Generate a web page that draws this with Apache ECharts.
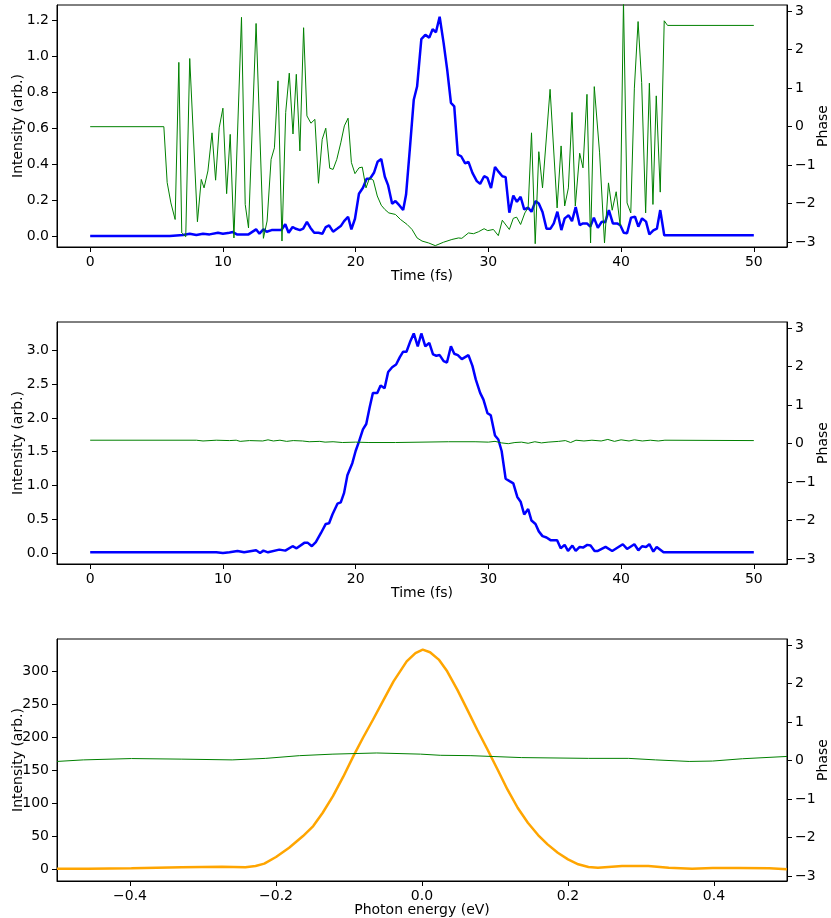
<!DOCTYPE html>
<html>
<head>
<meta charset="utf-8">
<script src="https://cdn.jsdelivr.net/npm/echarts@6/dist/echarts.min.js"></script>
<style>
html,body{margin:0;padding:0;background:#fff;}
#chart{width:831px;height:918px;}
</style>
</head>
<body>
<div id="chart"></div>
<script>
// ---------- Panel 1 (retrieved pulse, time domain) ----------
const time1I = [0,6.0,7.0,7.5,8.0,8.5,9.0,9.63,10.0,10.5,10.75,11.05,11.5,11.93,12.5,12.75,13.05,13.3,13.67,14.4,14.7,14.95,15.25,15.5,15.8,16.05,16.33,16.6,16.88,17.2,17.5,17.75,18.0,18.3,18.6,18.88,19.13,19.43,19.68,19.95,20.25,20.55,20.83,21.08,21.38,21.65,21.93,22.2,22.45,22.75,23.0,23.3,23.58,23.8,24.08,24.38,24.63,24.95,25.25,25.55,25.8,26.05,26.33,26.63,26.9,27.18,27.43,27.7,27.95,28.25,28.5,28.8,29.13,29.38,29.68,29.93,30.2,30.5,30.78,31.05,31.3,31.58,31.88,32.15,32.43,32.7,33.0,33.25,33.55,33.8,34.08,34.38,34.68,34.93,35.2,35.5,35.75,36.05,36.3,36.58,36.88,37.13,37.43,37.68,37.95,38.25,38.55,38.8,39.08,39.38,39.7,39.93,40.2,40.45,40.75,41.05,41.3,41.58,41.88,42.13,42.43,42.7,42.95,43.25,50];
const intensity1 = [0,0,0.006,0.013,0.006,0.013,0.009,0.018,0.013,0.018,0.022,0.009,0.009,0.009,0.037,0.013,0.037,0.024,0.033,0.033,0.065,0.018,0.05,0.04,0.033,0.041,0.078,0.045,0.018,0.018,0.013,0.05,0.059,0.024,0.04,0.055,0.083,0.107,0.037,0.096,0.235,0.268,0.318,0.318,0.351,0.412,0.428,0.329,0.281,0.179,0.194,0.17,0.144,0.23,0.48,0.757,0.83,1.093,1.117,1.102,1.148,1.132,1.218,1.071,0.923,0.739,0.72,0.452,0.443,0.403,0.412,0.351,0.305,0.29,0.332,0.323,0.266,0.384,0.356,0.332,0.327,0.13,0.225,0.19,0.218,0.148,0.157,0.135,0.194,0.181,0.133,0.041,0.041,0.07,0.135,0.033,0.098,0.115,0.083,0.161,0.061,0.07,0.07,0.052,0.102,0.046,0.08,0.076,0.144,0.07,0.07,0.061,0.018,0.015,0.102,0.107,0.052,0.098,0.08,0.009,0.031,0.041,0.144,0.004,0.004];
const time1P = [0,5.55,5.8,6.08,6.4,6.68,6.9,7.2,7.5,8.08,8.37,8.58,8.87,9.18,9.45,9.72,10.0,10.28,10.55,10.83,11.4,11.68,11.93,12.5,13.05,13.33,13.63,13.88,14.15,14.45,14.73,15.0,15.28,15.53,15.8,16.08,16.33,16.63,16.93,17.2,17.48,17.75,18.05,18.3,18.58,18.88,19.15,19.43,19.68,19.95,20.25,20.5,20.78,21.05,21.33,21.63,21.93,22.2,22.5,23.0,23.38,23.88,24.25,24.63,25.0,25.5,26.0,26.63,27.25,27.75,28.0,28.5,28.88,29.25,29.68,29.95,30.38,30.75,31.05,31.58,31.88,32.13,32.43,32.75,33.0,33.25,33.53,33.8,34.08,34.65,35.18,35.48,35.75,36.03,36.3,36.55,36.88,37.13,37.43,37.7,37.98,38.38,38.75,39.05,39.33,39.63,39.93,40.18,40.45,40.73,41.0,41.28,41.55,41.85,42.13,42.4,42.65,42.95,43.25,43.5,50];
const phase1 = [0,0,-1.45,-1.98,-2.41,1.67,-2.76,-2.86,1.77,-2.47,-1.37,-1.59,-1.15,-0.16,-1.39,-0.03,0.48,-1.74,-0.2,-2.89,2.84,-2.02,-2.63,2.68,-2.9,-2.45,-0.85,-0.55,1.19,-2.97,0.37,1.39,-0.19,1.36,-0.63,2.57,0.28,0.09,0.19,-1.47,-0.33,-0.04,-1.08,-1.11,-0.85,-0.42,0.02,0.22,-0.93,-1.22,-1.07,-1.05,-1.59,-1.33,-1.39,-1.8,-2.04,-2.15,-2.24,-2.28,-2.41,-2.54,-2.67,-2.89,-2.97,-3.02,-3.09,-3.0,-2.93,-2.89,-2.9,-2.76,-2.78,-2.73,-2.65,-2.7,-2.67,-2.83,-2.43,-2.67,-2.38,-2.35,-2.54,-2.24,-2.1,-0.16,-3.04,-0.65,-1.59,0.97,-2.11,-0.5,-2.06,-1.59,0.37,-2.06,-0.69,-1.07,0.84,-3.02,1.04,-0.68,-3.02,-1.46,-2.17,-1.69,-2.58,3.25,-1.98,-2.24,1.0,2.73,1.15,-2.24,1.13,-2.02,0.8,-1.7,2.75,2.63,2.63];

// ---------- Panel 2 (input pulse, time domain) ----------
const time2I = [0,9.5,10.0,10.5,11.1,11.6,12.5,12.8,13.05,13.4,14.25,14.7,15.25,15.55,16.13,16.4,16.7,17.0,17.4,17.75,18.0,18.25,18.63,18.88,19.13,19.38,19.75,20.0,20.25,20.55,20.8,21.05,21.3,21.63,21.88,22.18,22.45,22.75,23.05,23.33,23.58,23.83,24.13,24.38,24.68,24.95,25.25,25.55,25.83,26.08,26.33,26.63,26.88,27.18,27.43,27.7,28.0,28.25,28.5,28.8,29.05,29.38,29.63,29.93,30.18,30.5,30.75,31.0,31.3,31.63,31.88,32.18,32.43,32.7,33.0,33.25,33.55,33.8,34.08,34.38,34.68,35.18,35.45,35.75,36.0,36.33,36.58,36.88,37.13,37.45,37.7,38.0,38.25,38.83,39.33,40.13,40.45,41.0,41.3,41.58,41.88,42.13,42.43,42.68,43.2,50];
const intensity2 = [0.01,0.01,0.0,0.01,0.03,0.01,0.04,0.0,0.035,0.01,0.05,0.035,0.1,0.07,0.15,0.15,0.1,0.16,0.3,0.43,0.44,0.57,0.73,0.75,0.89,1.15,1.33,1.51,1.65,1.83,1.91,2.15,2.37,2.37,2.48,2.44,2.68,2.75,2.79,2.9,2.98,2.98,3.14,3.25,3.06,3.25,3.06,3.11,2.94,2.92,2.93,2.84,2.82,3.06,2.95,2.93,2.87,2.9,2.93,2.77,2.57,2.37,2.27,2.07,2.04,1.74,1.68,1.51,1.1,1.06,1.03,0.83,0.76,0.57,0.65,0.48,0.43,0.32,0.25,0.23,0.19,0.19,0.07,0.12,0.03,0.11,0.03,0.09,0.08,0.12,0.11,0.03,0.03,0.09,0.03,0.13,0.06,0.13,0.04,0.1,0.09,0.13,0.02,0.09,0.01,0.01];
const time2P = [0,8,8.5,9.5,10.5,11.0,11.3,12.0,13.0,13.4,13.8,14.3,14.8,15.3,16.0,16.5,17.3,17.7,18.3,19.0,20.0,21.0,23.0,25.0,27.0,29.0,30.0,30.5,31.0,31.5,32.0,32.5,33.0,33.5,34.0,34.5,35.3,35.8,36.2,36.6,37.2,37.8,38.5,39.0,39.5,40.0,40.6,41.0,41.6,42.2,42.8,43.3,50];
const phase2 = [0.09,0.09,0.07,0.09,0.08,0.09,0.06,0.08,0.07,0.1,0.07,0.09,0.06,0.08,0.07,0.05,0.06,0.04,0.05,0.03,0.04,0.03,0.03,0.04,0.05,0.05,0.04,0.06,0.02,0.0,0.03,0.04,0.01,0.05,0.02,0.04,0.06,0.08,0.03,0.09,0.07,0.09,0.07,0.11,0.06,0.1,0.07,0.1,0.07,0.09,0.07,0.09,0.08];

// ---------- Panel 3 (spectrum) ----------
const energy3I = [-0.5,-0.457,-0.398,-0.329,-0.274,-0.242,-0.228,-0.216,-0.2,-0.182,-0.163,-0.149,-0.136,-0.122,-0.108,-0.094,-0.081,-0.067,-0.053,-0.039,-0.021,-0.009,0.001,0.011,0.023,0.0345,0.0483,0.062,0.0755,0.0897,0.1035,0.117,0.131,0.145,0.159,0.172,0.186,0.2,0.214,0.228,0.241,0.26,0.274,0.31,0.338,0.37,0.398,0.434,0.476,0.5];
const spectrum3 = [1,1,1.5,3,4,3,5,8.6,18.7,32.8,50.4,65.5,85.7,110.9,140,171.5,199,227,256,284.7,315,327.7,332.8,329,317.8,300,272.3,242,211.8,181.5,151.3,121,93.3,70.6,51.9,37.8,25.2,15.1,7.6,3.5,2.5,4,5,5,2.5,1,2,2,1.5,0];
const energy3P = [-0.5,-0.464,-0.398,-0.329,-0.26,-0.214,-0.168,-0.122,-0.062,-0.002,0.025,0.067,0.136,0.228,0.283,0.32,0.366,0.398,0.439,0.5];
const phase3 = [-0.02,0.02,0.055,0.04,0.02,0.06,0.13,0.17,0.2,0.17,0.14,0.13,0.08,0.06,0.06,0.02,-0.02,-0.01,0.05,0.11];

// ---------- Tick labels ----------
const timeTicks = [0,10,20,30,40,50];
const energyTicks = [-0.4,-0.2,0.0,0.2,0.4];
const int1Ticks = [0,0.2,0.4,0.6,0.8,1.0,1.2];
const int2Ticks = [0,0.5,1.0,1.5,2.0,2.5,3.0];
const int3Ticks = [0,50,100,150,200,250,300];
const phaseTicks = [-3,-2,-1,0,1,2,3];

const zip = (a,b) => a.map((v,i) => [v,b[i]]);
const FONT = 'DejaVu Sans';
const FS = 14;
const fmt = d => v => (v < 0 ? '\u2212' : '') + Math.abs(v).toFixed(d);

function xAx(grid, min, max, ticks, dec, name, gap) {
  return {
    type:'value', gridIndex:grid, min:min, max:max, position:'bottom',
    name:name, nameLocation:'middle', nameGap:gap, nameMoveOverlap:false,
    nameTextStyle:{fontFamily:FONT,fontSize:FS,color:'#000'},
    axisLine:{show:true,onZero:false,lineStyle:{color:'#000',width:1}},
    axisTick:{show:true,length:5,inside:false,customValues:ticks,lineStyle:{color:'#000',width:1}},
    axisLabel:{show:true,customValues:ticks,formatter:fmt(dec),margin:8,fontFamily:FONT,fontSize:FS,color:'#000'},
    splitLine:{show:false}
  };
}
function yAx(grid, pos, min, max, ticks, dec, name, gap) {
  return {
    type:'value', gridIndex:grid, min:min, max:max, position:pos,
    name:name, nameLocation:'middle', nameGap:gap, nameRotate:90, nameMoveOverlap:false,
    nameTextStyle:{fontFamily:FONT,fontSize:FS,color:'#000'},
    axisLine:{show:true,onZero:false,lineStyle:{color:'#000',width:1}},
    axisTick:{show:true,length:5,inside:false,customValues:ticks,lineStyle:{color:'#000',width:1}},
    axisLabel:{show:true,customValues:ticks,formatter:fmt(dec),margin:8,fontFamily:FONT,fontSize:FS,color:'#000'},
    splitLine:{show:false}
  };
}
function lineS(xi, yi, data, color, width, z) {
  return {type:'line', xAxisIndex:xi, yAxisIndex:yi, data:data, showSymbol:false, symbol:'none',
    lineStyle:{color:color,width:width}, itemStyle:{color:color}, clip:true, z:z, animation:false};
}

const PMIN = -3.125, PMAX = 3.16;
const gridBase = {left:57, width:730, height:242, show:true, borderColor:'#000', borderWidth:1, containLabel:false, outerBoundsMode:'none'};
const option = {
  animation:false,
  backgroundColor:'#fff',
  grid:[
    Object.assign({top:5}, gridBase),
    Object.assign({top:322}, gridBase),
    Object.assign({top:639}, gridBase)
  ],
  xAxis:[
    xAx(0, -2.5, 52.5, timeTicks, 0, 'Time (fs)', 22),
    xAx(1, -2.5, 52.5, timeTicks, 0, 'Time (fs)', 22),
    xAx(2, -0.5, 0.5, energyTicks, 1, 'Photon energy (eV)', 22)
  ],
  yAxis:[
    yAx(0, 'left', -0.061, 1.283, int1Ticks, 1, 'Intensity (arb.)', 32),
    yAx(0, 'right', PMIN, PMAX, phaseTicks, 0, 'Phase', 29),
    yAx(1, 'left', -0.163, 3.42, int2Ticks, 1, 'Intensity (arb.)', 32),
    yAx(1, 'right', PMIN, PMAX, phaseTicks, 0, 'Phase', 29),
    yAx(2, 'left', -17.7, 349, int3Ticks, 0, 'Intensity (arb.)', 32),
    yAx(2, 'right', PMIN, PMAX, phaseTicks, 0, 'Phase', 29)
  ],
  series:[
    lineS(0, 0, zip(time1I, intensity1), '#0000ff', 2.5, 2),
    lineS(0, 1, zip(time1P, phase1), '#008000', 1, 3),
    lineS(1, 2, zip(time2I, intensity2), '#0000ff', 2.5, 2),
    lineS(1, 3, zip(time2P, phase2), '#008000', 1, 3),
    lineS(2, 4, zip(energy3I, spectrum3), '#ffa500', 2.5, 2),
    lineS(2, 5, zip(energy3P, phase3), '#008000', 1, 3)
  ]
};
const chart = echarts.init(document.getElementById('chart'), null, {renderer:'canvas'});
chart.setOption(option);
</script>
</body>
</html>
